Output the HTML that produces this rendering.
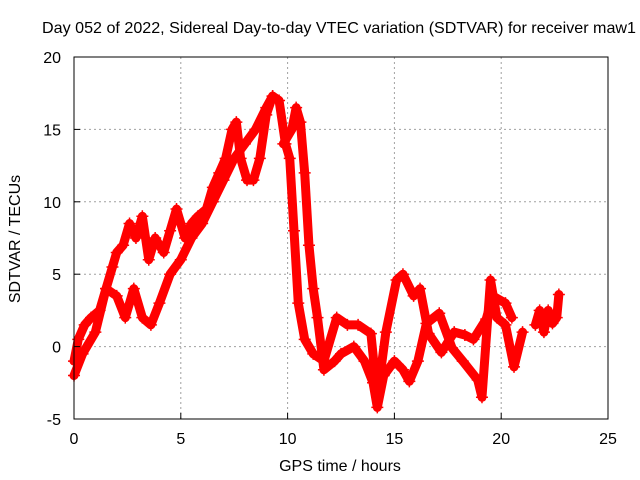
<!DOCTYPE html>
<html><head><meta charset="utf-8"><style>
body{margin:0;background:#fff;}
svg{display:block;font-family:"Liberation Sans",sans-serif;}
</style></head><body>
<svg id="chart" width="640" height="480" viewBox="0 0 640 480">
<rect width="640" height="480" fill="#fff"/>
<text x="339" y="33" font-size="16" text-anchor="middle" textLength="594" lengthAdjust="spacingAndGlyphs">Day 052 of 2022, Sidereal Day-to-day VTEC variation (SDTVAR) for receiver maw1</text>
<g id="grid"></g>
<g id="marks"></g>
<rect x="74" y="57" width="534" height="362" fill="none" stroke="#000" stroke-width="1"/>
<g id="ticks"></g>
<text x="340" y="471" font-size="16" text-anchor="middle">GPS time / hours</text>
<text x="20" y="239" font-size="16" text-anchor="middle" transform="rotate(-90 20 239)">SDTVAR / TECUs</text>
</svg>
<script>
const xTicks=[0,5,10,15,20,25];
const yTicks=[-5,0,5,10,15,20];
const t1h=[0,0.2,0.5,0.8,1.2,1.5,1.8,2,2.3,2.6,2.9,3.2,3.5,3.8,4.2,4.5,4.8,5.2,5.5,5.8,6.2,6.5,6.8,7.1,7.4,7.6,7.8,8.1,8.4,8.7,9,9.3,9.6,9.9,10.1,10.3,10.5,10.8,11.2,11.7,12.3,12.8,13.3,13.9,14.2,14.6,15.1,15.4,15.9,16.2,16.6,17.2,17.8,18.3,18.7,19.3,19.6,20.2,20.5];
const t1v=[-1,0.5,1.5,2,2.5,4,5.5,6.5,7,8.5,7.5,9,6,7.5,6.5,8,9.5,7.5,8.5,9,9.5,11,12,13,15,15.5,13,11.5,11.5,13,16,17.3,17,14,13,8,3,0.5,-0.5,-1,2,1.5,1.5,0.9,-3.5,1,4.6,5,3.5,4,0.9,-0.4,1,0.8,0.5,1.9,3.5,3,2];
const t2h=[0,0.4,1,1.5,2,2.4,2.8,3.2,3.6,4,4.5,5,5.5,6,6.5,7,7.5,8,8.5,9,9.3];
const t2v=[-2,-0.5,1,4,3.5,2,4,2,1.5,3,5,6,7.5,8.5,10,11.5,13,14,15,16.5,17.3];
const t3h=[9.8,10.2,10.4,10.6,10.8,11,11.2,11.4,11.7,12.2,12.5,13.1,13.6,14,14.2,14.5,15,15.4,15.7,16.1,16.5,17.1,17.7,18.2,18.9,19.1,19.5,19.8,20.2,20.6,21];
const t3v=[14,15,16.5,15.5,12,7,4,2,-1.6,-1,-0.5,0,-1,-2.5,-4.2,-2,-1,-1.6,-2.4,-1,1.6,2.3,-0.1,-1,-2.3,-3.5,4.6,2,1.5,-1.4,1];
const t4h=[21.6,21.8,22,22.2,22.4,22.6,22.7];
const t4v=[1.5,2.5,1,2.5,1.6,2,3.6];
const series=[[t1h,t1v],[t2h,t2v],[t3h,t3v],[t4h,t4v]];
const X=h=>74+h*(534/25);
const Y=v=>57+(20-v)*(362/25);
const NS="http://www.w3.org/2000/svg";
const grid=document.getElementById('grid'),ticks=document.getElementById('ticks'),marks=document.getElementById('marks');
function mk(tag,attrs,parent){const e=document.createElementNS(NS,tag);for(const k in attrs)e.setAttribute(k,attrs[k]);parent.appendChild(e);return e;}
xTicks.forEach(t=>{
  const x=X(t);
  if(t>0&&t<25){const g=mk('line',{x1:x,y1:57,x2:x,y2:419,stroke:'#a0a0a0','stroke-dasharray':'2,3'},grid);
  
  }
  const tk=mk('line',{x1:x,y1:419,x2:x,y2:413,stroke:'#000'},ticks);
  
  
  const l=mk('text',{x:x,y:444,'font-size':16,'text-anchor':'middle'},ticks);l.textContent=t;
  
  
});
yTicks.forEach(t=>{
  const y=Y(t);
  if(t>-5&&t<20){const g=mk('line',{x1:74,y1:y,x2:608,y2:y,stroke:'#a0a0a0','stroke-dasharray':'2,3'},grid);
  
  }
  const tk=mk('line',{x1:74,y1:y,x2:80,y2:y,stroke:'#000'},ticks);
  
  
  const l=mk('text',{x:61,y:y+6,'font-size':16,'text-anchor':'end'},ticks);l.textContent=t;
  
  
});
series.forEach((s,i)=>{
  const [hs,vs]=s;
  const pts=hs.map((h,j)=>X(h)+','+Y(vs[j])).join(' ');
  const pl=mk('polyline',{points:pts,fill:'none',stroke:'#f00','stroke-width':9,'stroke-linejoin':'round','stroke-linecap':'round'},marks);
  
  
  hs.forEach((h,j)=>{
    const x=X(h),y=Y(vs[j]);
    const p=mk('path',{d:`M${x-6},${y}h12M${x},${y-6}v12`,stroke:'#f00','stroke-width':1.5},marks);
    
    
  });
});
</script>
</body></html>
